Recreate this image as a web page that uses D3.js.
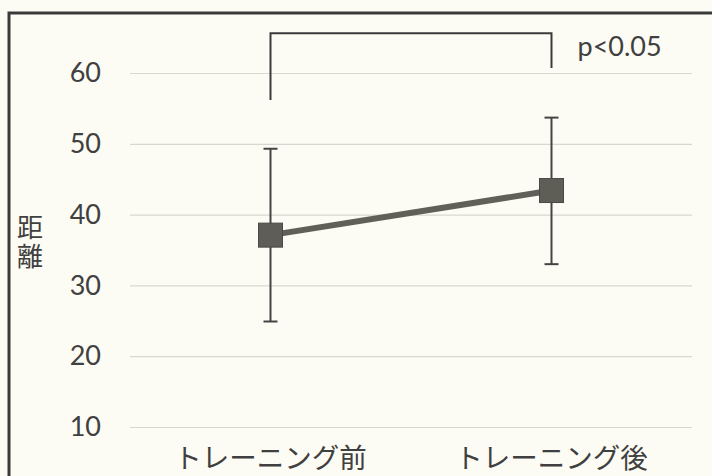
<!DOCTYPE html>
<html><head><meta charset="utf-8">
<script src="https://cdn.jsdelivr.net/npm/d3@7"></script>
<style>
html,body{margin:0;padding:0;background:#fcfcf4;}
svg{display:block;}
</style></head>
<body>
<svg id="chart" width="712" height="476"></svg>
<script>
const categories = ["トレーニング前", "トレーニング後"];
const means = [37.1, 43.4];
const errUpper = [49.3, 53.7];
const errLower = [24.9, 33.0];
const yTicks = [10, 20, 30, 40, 50, 60];
const yLabel = "距離";
const sigText = "p<0.05";
const bracketTop = 65.6;
const bracketLeftEnd = 56.2;
const bracketRightEnd = 60.7;

const svg = d3.select("#chart");
const plotLeft = 130, plotRight = 692;
const y = d3.scaleLinear().domain([10, 60]).range([427, 73]);
const x = d3.scaleBand().domain(categories).range([plotLeft, plotRight]);
const cx = c => x(c) + x.bandwidth() / 2;

svg.append("rect").attr("x", 0).attr("y", 0).attr("width", 712).attr("height", 476).attr("fill", "#fcfcf4");

// frame
svg.append("path").attr("d", "M9,476 V13 H712").attr("fill", "none").attr("stroke", "#3a3a3a").attr("stroke-width", 3);

// gridlines
const grid = svg.append("g").attr("transform", `translate(${plotLeft},0)`)
  .call(d3.axisLeft(y).tickValues(yTicks).tickSize(-(plotRight - plotLeft)).tickFormat(""));
grid.select(".domain").remove();
grid.selectAll("line").attr("stroke", "#d8d8d0").attr("stroke-width", 1.2);

// y tick labels
const yAxis = svg.append("g").attr("transform", "translate(101,0)")
  .call(d3.axisLeft(y).tickValues(yTicks).tickSize(0).tickPadding(0).tickFormat(d3.format("d")));
yAxis.select(".domain").remove();
yAxis.selectAll("text").attr("font-family", "Lato, 'Noto Sans', sans-serif").attr("font-size", 27).attr("fill", "#404040");

// x labels
const xAxis = svg.append("g").attr("transform", "translate(0,441)")
  .call(d3.axisBottom(x).tickSize(0).tickPadding(0));
xAxis.select(".domain").remove();
xAxis.selectAll("text").attr("dy", "0").attr("y", 27).attr("font-family", "'Noto Sans CJK JP', sans-serif").attr("font-size", 27.5).attr("fill", "#404040");

// y label vertical
svg.append("text")
  .attr("x", 30).attr("y", 243)
  .attr("writing-mode", "vertical-rl")
  .attr("text-anchor", "middle")
  .attr("letter-spacing", 3)
  .attr("font-family", "'Noto Sans CJK JP', sans-serif").attr("font-size", 26).attr("fill", "#404040")
  .text(yLabel);

// bracket
const bx1 = cx(categories[0]), bx2 = cx(categories[1]);
svg.append("path")
  .attr("d", `M${bx1},${y(bracketLeftEnd)} V${y(bracketTop)} H${bx2} V${y(bracketRightEnd)}`)
  .attr("fill", "none").attr("stroke", "#3a3a3a").attr("stroke-width", 2);
svg.append("text").attr("x", bx2 + 26).attr("y", 56).attr("font-family", "Lato, 'Noto Sans', sans-serif").attr("font-size", 27).attr("fill", "#404040").text(sigText);

// error bars
const data = categories.map((c, i) => ({c, m: means[i], hi: errUpper[i], lo: errLower[i]}));
const eb = svg.append("g").attr("stroke", "#444").attr("stroke-width", 2).attr("fill", "none");
eb.selectAll(".v").data(data).join("line").attr("x1", d => cx(d.c)).attr("x2", d => cx(d.c)).attr("y1", d => y(d.hi)).attr("y2", d => y(d.lo));
eb.selectAll(".t").data(data).join("line").attr("x1", d => cx(d.c) - 7).attr("x2", d => cx(d.c) + 7).attr("y1", d => y(d.hi)).attr("y2", d => y(d.hi));
eb.selectAll(".b").data(data).join("line").attr("x1", d => cx(d.c) - 7).attr("x2", d => cx(d.c) + 7).attr("y1", d => y(d.lo)).attr("y2", d => y(d.lo));

// line
svg.append("path").datum(data)
  .attr("d", d3.line().x(d => cx(d.c)).y(d => y(d.m)))
  .attr("fill", "none").attr("stroke", "#606058").attr("stroke-width", 6);

// markers
const s = 24;
svg.selectAll(".mk").data(data).join("rect")
  .attr("x", d => cx(d.c) - s / 2).attr("y", d => y(d.m) - s / 2)
  .attr("width", s).attr("height", s)
  .attr("fill", "#5e5e56").attr("stroke", "#4a4a44").attr("stroke-width", 1);
</script>
</body></html>
